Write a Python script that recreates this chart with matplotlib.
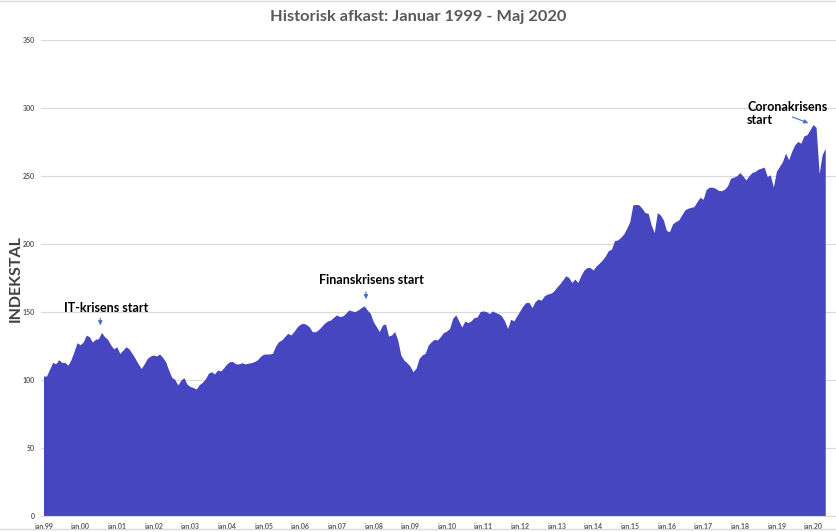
import numpy as np
import matplotlib.pyplot as plt
from matplotlib.lines import Line2D

# Monthly index values, jan 1999 - maj 2020
values = [
    103, 103, 108, 113, 112, 115, 113, 113, 111, 115, 121, 127.5,            # 1999
    126, 128, 133, 132, 128, 130, 130.5, 135, 132, 130, 126, 123,            # 2000
    124.5, 119.6, 122, 124.5, 123, 119.6, 116, 112, 108.5, 112, 116, 117.7,  # 2001
    118.5, 117.7, 119.2, 116.7, 113.5, 107.4, 102, 100.5, 96.4, 100, 101.8, 97,  # 2002
    95.3, 94.6, 93.4, 96.6, 98.3, 100.8, 105, 106.2, 104.5, 107.4, 106.7, 109,   # 2003
    111.9, 113.6, 113.6, 111.9, 111.9, 112.8, 111.9, 112.4, 112.8, 113.6, 114.8, 117.3,  # 2004
    119, 119.2, 119.2, 119.7, 125, 128.3, 129.5, 132, 134.4, 133.2, 135.7, 138.9,  # 2005
    141, 141.8, 141, 139.3, 135.7, 135.5, 137, 139.3, 141.8, 143.5, 144.2, 146.2,  # 2006
    148, 146.7, 147.2, 149.2, 151.6, 150.9, 150.4, 151.6, 153.3, 154.6, 151.6, 149.2,  # 2007
    143, 139.3, 135.7, 140.5, 141.3, 132.4, 133.2, 135.7, 129.5, 118.5, 114.8, 112.8,  # 2008
    110.4, 106.2, 108.7, 116, 118.5, 119.7, 125.8, 128.3, 130, 129.5, 132, 135,    # 2009
    136, 138, 145.4, 148, 143.5, 139, 143.5, 142.3, 143.5, 146, 146.4, 150.4,      # 2010
    150.9, 150.4, 148.9, 150.9, 149.7, 148.9, 147.2, 143.5, 138, 144.8, 143.5, 147.2,  # 2011
    150.9, 154.6, 157.1, 157.1, 153.3, 157.8, 159.6, 158.8, 162, 163.3, 163.8, 165.2,  # 2012
    168.2, 170.6, 173.5, 176.7, 175.5, 171.8, 174.3, 171.8, 177, 181, 182.8, 182.8,    # 2013
    181, 184, 186, 188.4, 191.4, 195.3, 196.3, 202.6, 203.1, 205, 207.5, 211.7,        # 2014
    216.6, 228.9, 229.3, 228.9, 226.4, 223.2, 222.7, 214.1, 208.5, 223.2, 221.5, 217.8,  # 2015
    210, 209.2, 214.9, 216.6, 217.8, 221.5, 225.2, 226.4, 227.1, 227.6, 231.3, 234.5,    # 2016
    233, 240.2, 241.9, 241.9, 241.1, 239.6, 239.3, 240.4, 242.9, 248.5, 249.3, 250.3,    # 2017
    252.7, 250.3, 247.3, 250.3, 252.7, 253.5, 255.2, 255.9, 256.7, 249.8, 251, 242,      # 2018
    253.5, 257.2, 260.8, 267, 262.1, 268.2, 273.1, 275.6, 274.3, 279.7, 280.5, 284.2,    # 2019
    288, 286, 252, 266, 270.5,                                                           # 2020
]
months = np.arange(len(values))
years = list(range(1999, 2021))
tick_labels = ['jan.%02d' % (y % 100) for y in years]
y_ticks = [0, 50, 100, 150, 200, 250, 300, 350]

fill_color = '#4646C0'
grid_color = '#D9D9D9'
text_gray = '#595959'
arrow_color = '#4472C4'

plt.rcParams['font.family'] = ['Lato', 'DejaVu Sans']

fig = plt.figure(figsize=(8.37, 5.32), dpi=100)
ax = fig.add_axes([41.5 / 837, 16 / 532, (837 - 41.5) / 837, (516 - 40.3) / 532])

ax.fill_between(months, values, 0, color=fill_color, lw=0, zorder=2)

ax.set_xlim(-0.65, 259.85)
ax.set_ylim(0, 350)
ax.set_yticks(y_ticks)
ax.set_yticklabels([str(v) for v in y_ticks], fontsize=5, color=text_gray, fontweight='bold')
ax.set_xticks(months[::12])
ax.set_xticklabels(tick_labels, fontsize=5, color=text_gray, fontweight='bold')
ax.tick_params(length=0, pad=5)
ax.grid(axis='y', color=grid_color, lw=0.8, zorder=0)
for s in ['top', 'right', 'left']:
    ax.spines[s].set_visible(False)
ax.spines['bottom'].set_color(grid_color)
ax.spines['bottom'].set_linewidth(0.8)

ax.set_ylabel('INDEKSTAL', fontsize=11.5, fontweight='bold', color='#404040')
ax.yaxis.set_label_coords(-0.0235, 0.5)
fig.text(0.5, 1 - 17 / 532, 'Historisk afkast: Januar 1999 - Maj 2020', ha='center', va='center',
         fontsize=11.8, fontweight='bold', color=text_gray)

# annotations
ax.text(20.5, 153, 'IT-krisens start', ha='center', va='center', fontsize=9, fontweight='bold')
ax.annotate('', xy=(18.7, 138.3), xytext=(18.5, 147.5),
            arrowprops=dict(arrowstyle='-|>', color=arrow_color, lw=0.8, mutation_scale=6))
ax.text(107.4, 173.7, 'Finanskrisens start', ha='center', va='center', fontsize=9, fontweight='bold')
ax.annotate('', xy=(105.6, 157.5), xytext=(105.6, 167),
            arrowprops=dict(arrowstyle='-|>', color=arrow_color, lw=0.8, mutation_scale=6))
ax.text(230.4, 305, 'Coronakrisens\nstart', ha='left', va='top', fontsize=9, fontweight='bold',
        linespacing=1.1)
ax.annotate('', xy=(251.3, 288.4), xytext=(244.4, 294.3),
            arrowprops=dict(arrowstyle='-|>', color=arrow_color, lw=0.8, mutation_scale=6))

# chart border lines
fig.add_artist(Line2D([0, 1], [1 - 1 / 532, 1 - 1 / 532], transform=fig.transFigure, color=grid_color, lw=1))
fig.add_artist(Line2D([0, 1], [3 / 532, 3 / 532], transform=fig.transFigure, color=grid_color, lw=1))

fig.savefig('out.png', dpi=100)
